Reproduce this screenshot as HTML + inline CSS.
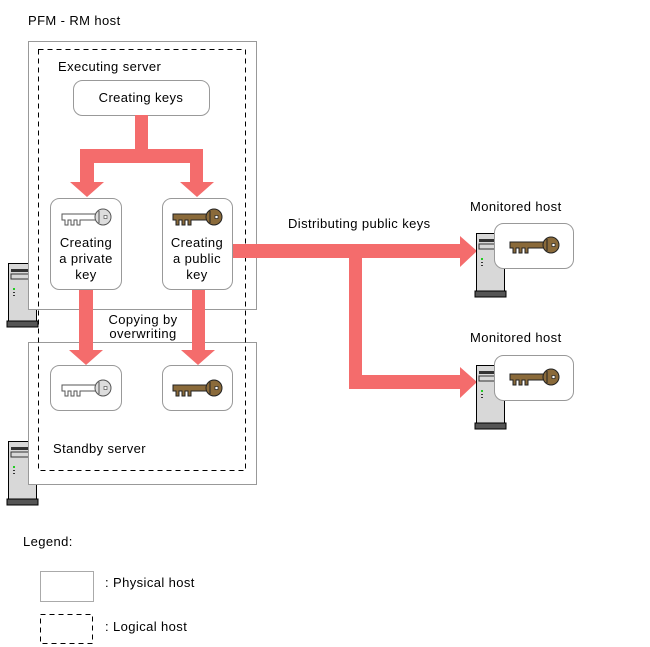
<!DOCTYPE html>
<html><head><meta charset="utf-8"><style>
html,body{margin:0;padding:0;background:#fff;}
svg{display:block;font-family:"Liberation Sans",Arial,sans-serif;font-size:13px;letter-spacing:0.4px;}
</style></head><body>
<svg width="650" height="647" viewBox="0 0 650 647" xmlns="http://www.w3.org/2000/svg">
<defs>
<g id="srv">
<rect x="0.5" y="0.5" width="28" height="58" fill="#d8d8d8" stroke="#000"/>
<rect x="3" y="6" width="24" height="3" fill="#333"/>
<rect x="3" y="11" width="24" height="5" fill="none" stroke="#333"/>
<rect x="5" y="25" width="2" height="2" fill="#2c2"/>
<rect x="5" y="29" width="2" height="1" fill="#333"/>
<rect x="5" y="32" width="2" height="1" fill="#333"/>
<rect x="-1" y="58" width="31" height="6" fill="#555" stroke="#000"/>
</g>
<g id="kp">
<path d="M0 -3 H34 V3 H18 V8 H15 V3 H12 V8 H9 V3 H6 V8 H3 V3 H0 Z" fill="#fff" stroke="#555"/>
<circle cx="41" cy="0" r="8" fill="#ddd" stroke="#555"/>
<path d="M37 -6 V6" stroke="#555"/>
<rect x="42" y="-1.5" width="3" height="3" fill="#fff" stroke="#555" stroke-width="0.7"/>
</g>
<g id="ku">
<path d="M0 -3 H34 V3 H18 V8 H15 V3 H12 V8 H9 V3 H6 V8 H3 V3 H0 Z" fill="#8a6a3a" stroke="#222"/>
<circle cx="41" cy="0" r="8" fill="#8a6a3a" stroke="#222"/>
<path d="M37 -6 V6" stroke="#222"/>
<rect x="42" y="-1.5" width="3" height="3" fill="#fff" stroke="#222" stroke-width="0.7"/>
</g>
</defs>
<text x="28" y="25">PFM - RM host</text>
<use href="#srv" x="8" y="263"/>
<use href="#srv" x="8" y="441"/>
<rect x="28.5" y="41.5" width="228" height="268" fill="#fff" stroke="#999"/>
<rect x="28.5" y="342.5" width="228" height="142" fill="#fff" stroke="#999"/>
<rect x="38.5" y="49.5" width="207" height="421" fill="none" stroke="#000" stroke-dasharray="5,4"/>
<text x="58" y="71">Executing server</text>
<rect x="73.5" y="80.5" width="136" height="35" rx="9" fill="#fff" stroke="#999"/>
<text x="141" y="102" text-anchor="middle">Creating keys</text>
<g fill="#f46c6c">
<rect x="135" y="115" width="13" height="48"/>
<rect x="80" y="149" width="123" height="14"/>
<rect x="80" y="149" width="14" height="34"/>
<rect x="190" y="149" width="13" height="34"/>
<path d="M70 182 H104 L87 197 Z"/>
<path d="M180 182 H214 L197 197 Z"/>
<rect x="79" y="289" width="14" height="62"/>
<path d="M69 350 H103 L86 365 Z"/>
<rect x="192" y="289" width="13" height="62"/>
<path d="M181 350 H215 L198 365 Z"/>
<rect x="232" y="244" width="229" height="14"/>
<path d="M460 236 L477 251 L460 267 Z"/>
<rect x="349" y="244" width="13" height="145"/>
<rect x="349" y="375" width="112" height="14"/>
<path d="M460 367 L477 382 L460 398 Z"/>
</g>
<rect x="50.5" y="198.5" width="71" height="91" rx="9" fill="#fff" stroke="#999"/>
<rect x="162.5" y="198.5" width="70" height="91" rx="9" fill="#fff" stroke="#999"/>
<use href="#kp" x="62" y="217"/>
<use href="#ku" x="173" y="217"/>
<text x="86" y="247" text-anchor="middle">Creating</text>
<text x="86" y="263" text-anchor="middle">a private</text>
<text x="86" y="279" text-anchor="middle">key</text>
<text x="197" y="247" text-anchor="middle">Creating</text>
<text x="197" y="263" text-anchor="middle">a public</text>
<text x="197" y="279" text-anchor="middle">key</text>
<text x="143" y="324" text-anchor="middle">Copying by</text>
<text x="143" y="338" text-anchor="middle">overwriting</text>
<rect x="50.5" y="365.5" width="71" height="45" rx="9" fill="#fff" stroke="#999"/>
<rect x="162.5" y="365.5" width="70" height="45" rx="9" fill="#fff" stroke="#999"/>
<use href="#kp" x="62" y="388"/>
<use href="#ku" x="173" y="388"/>
<text x="53" y="453">Standby server</text>
<text x="288" y="228">Distributing public keys</text>
<text x="470" y="211">Monitored host</text>
<text x="470" y="342">Monitored host</text>
<use href="#srv" x="476" y="233"/>
<use href="#srv" x="476" y="365"/>
<rect x="494.5" y="223.5" width="79" height="45" rx="9" fill="#fff" stroke="#999"/>
<rect x="494.5" y="355.5" width="79" height="45" rx="9" fill="#fff" stroke="#999"/>
<use href="#ku" x="510" y="245"/>
<use href="#ku" x="510" y="377"/>
<text x="23" y="546">Legend:</text>
<rect x="40.5" y="571.5" width="53" height="30" fill="#fff" stroke="#aaa"/>
<rect x="40.5" y="614.5" width="52" height="29" fill="none" stroke="#000" stroke-dasharray="5,4"/>
<text x="105" y="587">: Physical host</text>
<text x="105" y="631">: Logical host</text>
</svg>
</body></html>
